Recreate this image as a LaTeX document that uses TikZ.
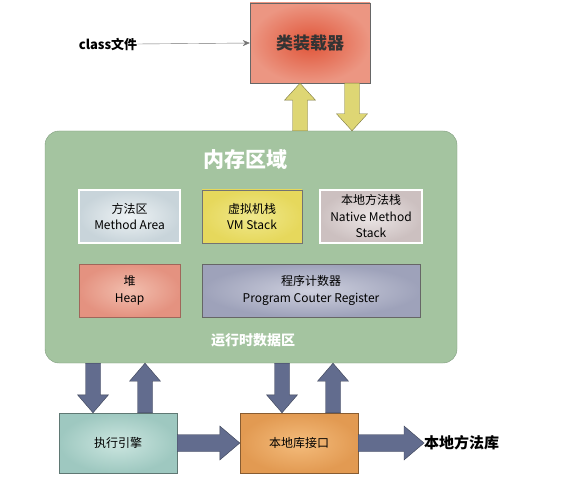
\documentclass[tikz,border=0pt]{standalone}
\usepackage{fontspec}
\setmainfont{Noto Sans CJK SC}
\usetikzlibrary{arrows.meta,calc}
\definecolor{loaderred}{RGB}{224,84,56}
\definecolor{loaderpink}{RGB}{236,150,130}
\definecolor{memgreen}{RGB}{164,196,160}
\definecolor{memedge}{RGB}{128,156,126}
\definecolor{mapale}{RGB}{238,243,245}
\definecolor{magray}{RGB}{200,212,218}
\definecolor{vmyellow}{RGB}{230,216,92}
\definecolor{vmlight}{RGB}{240,232,140}
\definecolor{nmspale}{RGB}{236,230,230}
\definecolor{nmsgray}{RGB}{204,192,192}
\definecolor{heaplight}{RGB}{242,190,174}
\definecolor{heapred}{RGB}{228,146,128}
\definecolor{pcrlight}{RGB}{206,208,222}
\definecolor{pcrgray}{RGB}{158,162,186}
\definecolor{execlight}{RGB}{204,230,224}
\definecolor{execteal}{RGB}{158,200,192}
\definecolor{jnilight}{RGB}{244,188,124}
\definecolor{jniorange}{RGB}{226,154,82}
\definecolor{arrowblue}{RGB}{98,108,142}
\definecolor{arrowyellow}{RGB}{222,214,116}
\tikzset{
	box/.style={rectangle,inner sep=0pt,align=center,font=\fontsize{12}{16.5}\selectfont},
	fat/.style n args={3}{to path={
		($(\tikztotarget)!#1!(\tikztostart)$) coordinate (neck)
		($(\tikztostart)!#2!90:(\tikztotarget)$)
		-- ($(neck)!#2!90:(\tikztotarget)$)
		-- ($(neck)!#3!90:(\tikztotarget)$)
		-- (\tikztotarget)
		-- ($(neck)!#3!-90:(\tikztotarget)$)
		-- ($(neck)!#2!-90:(\tikztotarget)$)
		-- ($(\tikztostart)!#2!-90:(\tikztotarget)$) -- cycle}},
	yellowarrow/.style={fat={17pt}{7.5pt}{15.5pt},draw=arrowyellow!55!black,fill=arrowyellow},
	bluevert/.style={fat={18pt}{7.5pt}{15.5pt},draw=arrowblue!60!black,fill=arrowblue},
	bluehoriz/.style={fat={20pt}{8.5pt}{17pt},draw=arrowblue!60!black,fill=arrowblue}
}
\begin{document}
\begin{tikzpicture}[x=1pt,y=-1pt]
	\useasboundingbox (0,0) rectangle (572,478);
	\node[box,minimum width=120pt,minimum height=80pt,draw=black!60,inner color=loaderred,outer color=loaderpink,font=\fontsize{17}{20}\selectfont\bfseries,text=black!80] (loader) at (310,43) {类装载器};
	\node[inner sep=0pt,font=\fontsize{13}{15}\selectfont\bfseries] (classfile) at (108,44) {class文件};
	\node[box,minimum width=412pt,minimum height=232pt,rounded corners=14pt,draw=memedge,fill=memgreen] (mem) at (251,247) {};
	\node[inner sep=0pt,text=white,font=\fontsize{21}{24}\selectfont\bfseries] (memtitle) at (245,160) {内存区域};
	\node[box,minimum width=101pt,minimum height=53pt,draw=white,line width=1.5pt,inner color=mapale,outer color=magray] (method) at (129.5,216.5) {方法区\\Method Area};
	\node[box,minimum width=100pt,minimum height=53pt,draw=black!55,inner color=vmlight,outer color=vmyellow] (vm) at (252,216.5) {虚拟机栈\\VM Stack};
	\node[box,minimum width=102pt,minimum height=53pt,draw=white,line width=1.5pt,inner color=nmspale,outer color=nmsgray] (native) at (371,216.5) {本地方法栈\\Native Method\\Stack};
	\node[box,minimum width=101pt,minimum height=53pt,draw=heapred!70!black,inner color=heaplight,outer color=heapred] (heap) at (129.5,290.5) {堆\\Heap};
	\node[box,minimum width=218pt,minimum height=53pt,draw=black!60,inner color=pcrlight,outer color=pcrgray] (pcr) at (311,290.5) {程序计数器\\Program Couter Register};
	\node[inner sep=0pt,text=white,font=\fontsize{14}{16}\selectfont\bfseries] (rtarea) at (253,340) {运行时数据区};
	\node[box,minimum width=118pt,minimum height=60pt,draw=execteal!60!black,inner color=execlight,outer color=execteal] (exec) at (118,443) {执行引擎};
	\node[box,minimum width=118pt,minimum height=60pt,draw=jniorange!60!black,inner color=jnilight,outer color=jniorange] (jni) at (299,443) {本地库接口};
	\node[inner sep=0pt,anchor=west,font=\fontsize{15}{18}\selectfont\bfseries] (natlib) at (424,443) {本地方法库};

	\draw[-{Stealth[length=7pt,width=6pt]},black!55] (classfile.east) -- (loader.west);
	\draw[yellowarrow] ([xshift=-10pt]loader.south |- mem.north) to ([xshift=-10pt]loader.south);
	\draw[yellowarrow] ([xshift=42pt]loader.south) to ([xshift=42pt]loader.south |- mem.north);
	\draw[bluevert] ([xshift=-25pt]exec.north |- mem.south) to ([xshift=-25pt]exec.north);
	\draw[bluevert] ([xshift=27pt]exec.north) to ([xshift=27pt]exec.north |- mem.south);
	\draw[bluevert] ([xshift=-17pt]jni.north |- mem.south) to ([xshift=-17pt]jni.north);
	\draw[bluevert] ([xshift=34pt]jni.north) to ([xshift=34pt]jni.north |- mem.south);
	\draw[bluehoriz] (exec.east) to (jni.west);
	\draw[bluehoriz] (jni.east) to (natlib.west);
\end{tikzpicture}
\end{document}
